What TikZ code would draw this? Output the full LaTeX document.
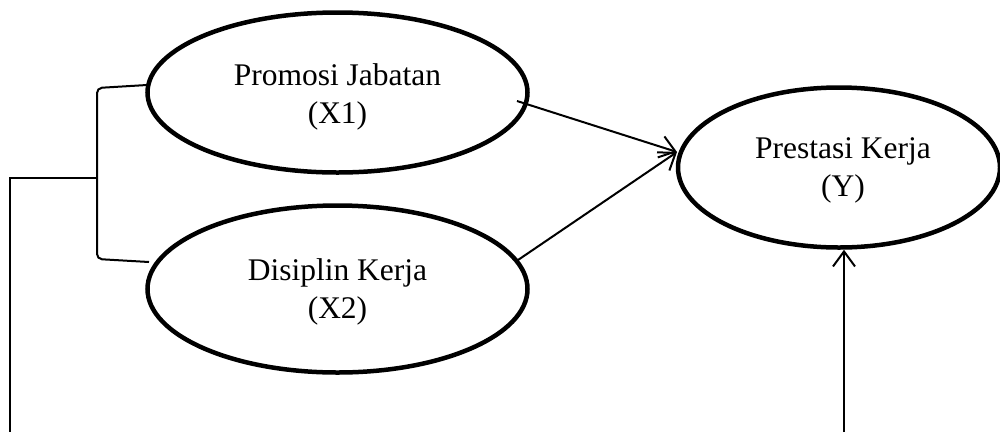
\documentclass[tikz,border=0pt]{standalone}
\usepackage{fontspec}
\setmainfont{Liberation Serif}
\usetikzlibrary{shapes.geometric,arrows.meta,calc}
\begin{document}
\begin{tikzpicture}[x=1pt,y=-1pt,
  oval/.style={draw, ellipse, line width=4.5pt, inner sep=0pt},
  lbl/.style={align=center, font=\fontsize{31.5}{38}\selectfont, inner sep=0pt},
  conn/.style={line width=2pt},
  arr/.style={line width=2pt, -{Straight Barb[length=15pt,width=22pt,line width=2pt]}}]
\useasboundingbox (0,0) rectangle (1000,432);
\node[oval, minimum width=380pt, minimum height=160pt] (e1) at (337.5,92.5) {};
\node[oval, minimum width=380pt, minimum height=167pt] (e2) at (337.5,289) {};
\node[oval, minimum width=322pt, minimum height=160pt] (e3) at (839,167.5) {};
\node[lbl] (t1) at (337.5,97) {Promosi Jabatan\\(X1)};
\node[lbl] (t2) at (337.5,292) {Disiplin Kerja\\(X2)};
\node[lbl] (t3) at (843,170) {Prestasi Kerja\\(Y)};
% connectors to Y
\coordinate (a1) at (517,101);
\coordinate (a2) at (518,260);
\coordinate (tipY) at (677,152);
\draw[arr] (a1) -- (tipY);
\draw[arr] (a2) -- (tipY);
% bracket on the left
\coordinate (bt) at (147,85);
\coordinate (bb) at (149,262);
\coordinate (bm) at (97,178);
\coordinate (lb) at (10,432);
\draw[conn, rounded corners=5pt] (bt) -- (97,88) -- (97,259) -- (bb);
\draw[conn] (bm) -- (10,178) -- (lb);
% arrow from below
\coordinate (rb) at (844,432);
\draw[arr] (rb) -- (rb |- e3.south);
\end{tikzpicture}
\end{document}
